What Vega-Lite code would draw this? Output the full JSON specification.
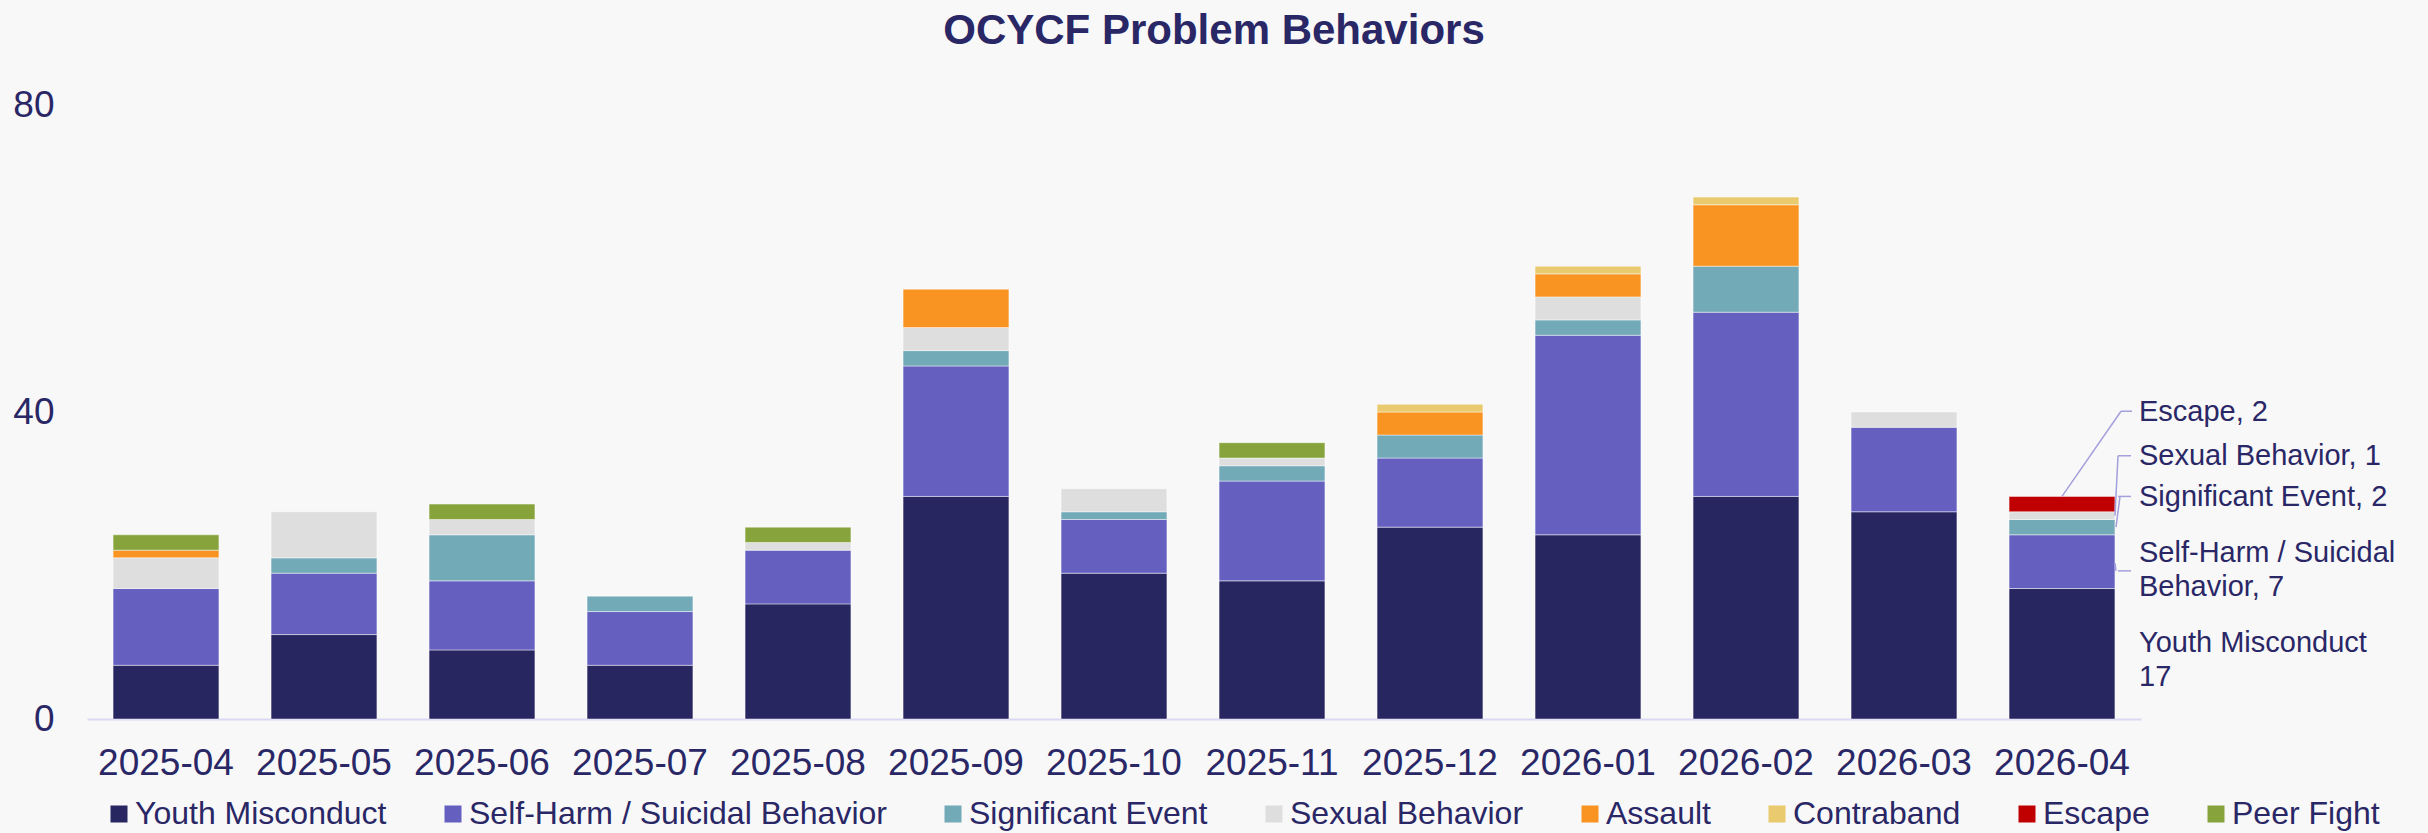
{
  "$schema": "https://vega.github.io/schema/vega-lite/v6.json",
  "width": 2054,
  "height": 614,
  "autosize": {"type": "none"},
  "padding": {"left": 87, "top": 105, "right": 287, "bottom": 114},
  "background": "#f8f8f8",
  "title": {"text": "OCYCF Problem Behaviors", "fontSize": 42, "font": "Liberation Sans", "fontWeight": "bold", "color": "#2a2766", "anchor": "middle", "dx": 100, "offset": 33},
  "config": {"view": {"stroke": null}, "font": "Liberation Sans"},
  "datasets": {
    "main": [
      {"month": "2025-04", "cat": "Youth Misconduct", "k": 1, "n": 7},
      {"month": "2025-04", "cat": "Self-Harm / Suicidal Behavior", "k": 2, "n": 10},
      {"month": "2025-04", "cat": "Sexual Behavior", "k": 4, "n": 4},
      {"month": "2025-04", "cat": "Assault", "k": 5, "n": 1},
      {"month": "2025-04", "cat": "Peer Fight", "k": 8, "n": 2},
      {"month": "2025-05", "cat": "Youth Misconduct", "k": 1, "n": 11},
      {"month": "2025-05", "cat": "Self-Harm / Suicidal Behavior", "k": 2, "n": 8},
      {"month": "2025-05", "cat": "Significant Event", "k": 3, "n": 2},
      {"month": "2025-05", "cat": "Sexual Behavior", "k": 4, "n": 6},
      {"month": "2025-06", "cat": "Youth Misconduct", "k": 1, "n": 9},
      {"month": "2025-06", "cat": "Self-Harm / Suicidal Behavior", "k": 2, "n": 9},
      {"month": "2025-06", "cat": "Significant Event", "k": 3, "n": 6},
      {"month": "2025-06", "cat": "Sexual Behavior", "k": 4, "n": 2},
      {"month": "2025-06", "cat": "Peer Fight", "k": 8, "n": 2},
      {"month": "2025-07", "cat": "Youth Misconduct", "k": 1, "n": 7},
      {"month": "2025-07", "cat": "Self-Harm / Suicidal Behavior", "k": 2, "n": 7},
      {"month": "2025-07", "cat": "Significant Event", "k": 3, "n": 2},
      {"month": "2025-08", "cat": "Youth Misconduct", "k": 1, "n": 15},
      {"month": "2025-08", "cat": "Self-Harm / Suicidal Behavior", "k": 2, "n": 7},
      {"month": "2025-08", "cat": "Sexual Behavior", "k": 4, "n": 1},
      {"month": "2025-08", "cat": "Peer Fight", "k": 8, "n": 2},
      {"month": "2025-09", "cat": "Youth Misconduct", "k": 1, "n": 29},
      {"month": "2025-09", "cat": "Self-Harm / Suicidal Behavior", "k": 2, "n": 17},
      {"month": "2025-09", "cat": "Significant Event", "k": 3, "n": 2},
      {"month": "2025-09", "cat": "Sexual Behavior", "k": 4, "n": 3},
      {"month": "2025-09", "cat": "Assault", "k": 5, "n": 5},
      {"month": "2025-10", "cat": "Youth Misconduct", "k": 1, "n": 19},
      {"month": "2025-10", "cat": "Self-Harm / Suicidal Behavior", "k": 2, "n": 7},
      {"month": "2025-10", "cat": "Significant Event", "k": 3, "n": 1},
      {"month": "2025-10", "cat": "Sexual Behavior", "k": 4, "n": 3},
      {"month": "2025-11", "cat": "Youth Misconduct", "k": 1, "n": 18},
      {"month": "2025-11", "cat": "Self-Harm / Suicidal Behavior", "k": 2, "n": 13},
      {"month": "2025-11", "cat": "Significant Event", "k": 3, "n": 2},
      {"month": "2025-11", "cat": "Sexual Behavior", "k": 4, "n": 1},
      {"month": "2025-11", "cat": "Peer Fight", "k": 8, "n": 2},
      {"month": "2025-12", "cat": "Youth Misconduct", "k": 1, "n": 25},
      {"month": "2025-12", "cat": "Self-Harm / Suicidal Behavior", "k": 2, "n": 9},
      {"month": "2025-12", "cat": "Significant Event", "k": 3, "n": 3},
      {"month": "2025-12", "cat": "Assault", "k": 5, "n": 3},
      {"month": "2025-12", "cat": "Contraband", "k": 6, "n": 1},
      {"month": "2026-01", "cat": "Youth Misconduct", "k": 1, "n": 24},
      {"month": "2026-01", "cat": "Self-Harm / Suicidal Behavior", "k": 2, "n": 26},
      {"month": "2026-01", "cat": "Significant Event", "k": 3, "n": 2},
      {"month": "2026-01", "cat": "Sexual Behavior", "k": 4, "n": 3},
      {"month": "2026-01", "cat": "Assault", "k": 5, "n": 3},
      {"month": "2026-01", "cat": "Contraband", "k": 6, "n": 1},
      {"month": "2026-02", "cat": "Youth Misconduct", "k": 1, "n": 29},
      {"month": "2026-02", "cat": "Self-Harm / Suicidal Behavior", "k": 2, "n": 24},
      {"month": "2026-02", "cat": "Significant Event", "k": 3, "n": 6},
      {"month": "2026-02", "cat": "Assault", "k": 5, "n": 8},
      {"month": "2026-02", "cat": "Contraband", "k": 6, "n": 1},
      {"month": "2026-03", "cat": "Youth Misconduct", "k": 1, "n": 27},
      {"month": "2026-03", "cat": "Self-Harm / Suicidal Behavior", "k": 2, "n": 11},
      {"month": "2026-03", "cat": "Sexual Behavior", "k": 4, "n": 2},
      {"month": "2026-04", "cat": "Youth Misconduct", "k": 1, "n": 17},
      {"month": "2026-04", "cat": "Self-Harm / Suicidal Behavior", "k": 2, "n": 7},
      {"month": "2026-04", "cat": "Significant Event", "k": 3, "n": 2},
      {"month": "2026-04", "cat": "Sexual Behavior", "k": 4, "n": 1},
      {"month": "2026-04", "cat": "Escape", "k": 7, "n": 2}
    ],
    "labels": [
      {"month": "2026-04", "label": "Escape, 2", "pos": 40.0},
      {"month": "2026-04", "label": "Sexual Behavior, 1", "pos": 34.3},
      {"month": "2026-04", "label": "Significant Event, 2", "pos": 28.9},
      {"month": "2026-04", "label": "Self-Harm / Suicidal", "pos": 21.6},
      {"month": "2026-04", "label": "Behavior, 7", "pos": 17.2},
      {"month": "2026-04", "label": "Youth Misconduct", "pos": 9.9},
      {"month": "2026-04", "label": "17", "pos": 5.5}
    ]
  },
  "layer": [
    {
      "data": {"name": "main"},
      "mark": {"type": "bar", "stroke": "#ffffff", "strokeWidth": 1, "strokeOpacity": 0.45},
      "encoding": {
        "x": {"field": "month", "type": "nominal", "sort": null,
              "scale": {"paddingInner": 0.33, "paddingOuter": 0.165},
              "axis": {"title": null, "labelAngle": 0, "labelFontSize": 37, "labelColor": "#2a2766", "labelFont": "Liberation Sans", "ticks": false, "tickSize": 0, "domainColor": "#dad8f2", "domainWidth": 2, "labelPadding": 26, "grid": false}},
        "y": {"field": "n", "type": "quantitative", "aggregate": "sum", "stack": "zero",
              "scale": {"domain": [0, 80], "nice": false},
              "axis": {"title": null, "values": [0, 40, 80], "labelFontSize": 37, "labelColor": "#2a2766", "labelFont": "Liberation Sans", "ticks": false, "tickSize": 0, "domain": false, "grid": false, "labelPadding": 33}},
        "color": {"field": "cat", "type": "nominal",
                  "scale": {"domain": ["Youth Misconduct", "Self-Harm / Suicidal Behavior", "Significant Event", "Sexual Behavior", "Assault", "Contraband", "Escape", "Peer Fight"],
                            "range": ["#282661", "#6560c0", "#72aab8", "#dedede", "#f99423", "#e9ca6e", "#c00000", "#86a33c"]},
                  "legend": {"orient": "none", "legendX": 16, "legendY": 693, "direction": "horizontal", "columns": 8, "title": null, "symbolType": "square", "symbolSize": 289, "symbolStrokeWidth": 0, "symbolOpacity": 1, "labelFontSize": 32, "labelColor": "#2a2766", "labelFont": "Liberation Sans", "labelOffset": 0, "columnPadding": 50, "labelLimit": 800, "padding": 0}},
        "order": {"field": "k", "type": "quantitative", "sort": "ascending"}
      }
    },
    {
      "data": {"name": "labels"},
      "mark": {"type": "text", "align": "left", "baseline": "middle", "dx": 77, "fontSize": 29, "color": "#2a2766", "font": "Liberation Sans"},
      "encoding": {
        "x": {"field": "month", "type": "nominal", "sort": null},
        "y": {"field": "pos", "type": "quantitative"},
        "text": {"field": "label", "type": "nominal"}
      }
    },
    {
      "data": {"values": [{"month": "2026-04", "a": 29, "b": 40.1}]},
      "mark": {"type": "rule", "color": "#a3a0dc", "strokeWidth": 1.5, "xOffset": 0, "x2Offset": 59},
      "encoding": {"x": {"field": "month", "type": "nominal", "sort": null}, "x2": {"field": "month"}, "y": {"field": "a", "type": "quantitative"}, "y2": {"field": "b"}}
    },
    {
      "data": {"values": [{"month": "2026-04", "a": 40.1, "b": 40.1}]},
      "mark": {"type": "rule", "color": "#a3a0dc", "strokeWidth": 1.5, "xOffset": 59, "x2Offset": 70},
      "encoding": {"x": {"field": "month", "type": "nominal", "sort": null}, "x2": {"field": "month"}, "y": {"field": "a", "type": "quantitative"}, "y2": {"field": "b"}}
    },
    {
      "data": {"values": [{"month": "2026-04", "a": 26.5, "b": 34.3}]},
      "mark": {"type": "rule", "color": "#a3a0dc", "strokeWidth": 1.5, "xOffset": 53, "x2Offset": 56},
      "encoding": {"x": {"field": "month", "type": "nominal", "sort": null}, "x2": {"field": "month"}, "y": {"field": "a", "type": "quantitative"}, "y2": {"field": "b"}}
    },
    {
      "data": {"values": [{"month": "2026-04", "a": 25.0, "b": 29.0}]},
      "mark": {"type": "rule", "color": "#a3a0dc", "strokeWidth": 1.5, "xOffset": 54, "x2Offset": 58},
      "encoding": {"x": {"field": "month", "type": "nominal", "sort": null}, "x2": {"field": "month"}, "y": {"field": "a", "type": "quantitative"}, "y2": {"field": "b"}}
    },
    {
      "data": {"values": [{"month": "2026-04", "a": 20.3, "b": 19.3}]},
      "mark": {"type": "rule", "color": "#a3a0dc", "strokeWidth": 1.5, "xOffset": 53, "x2Offset": 54},
      "encoding": {"x": {"field": "month", "type": "nominal", "sort": null}, "x2": {"field": "month"}, "y": {"field": "a", "type": "quantitative"}, "y2": {"field": "b"}}
    },
    {
      "data": {"values": [{"month": "2026-04", "a": 34.3}, {"month": "2026-04", "a": 29.0}, {"month": "2026-04", "a": 19.3}]},
      "mark": {"type": "rule", "color": "#a3a0dc", "strokeWidth": 1.5, "xOffset": 56, "x2Offset": 69},
      "encoding": {"x": {"field": "month", "type": "nominal", "sort": null}, "x2": {"field": "month"}, "y": {"field": "a", "type": "quantitative"}}
    }
  ]
}
